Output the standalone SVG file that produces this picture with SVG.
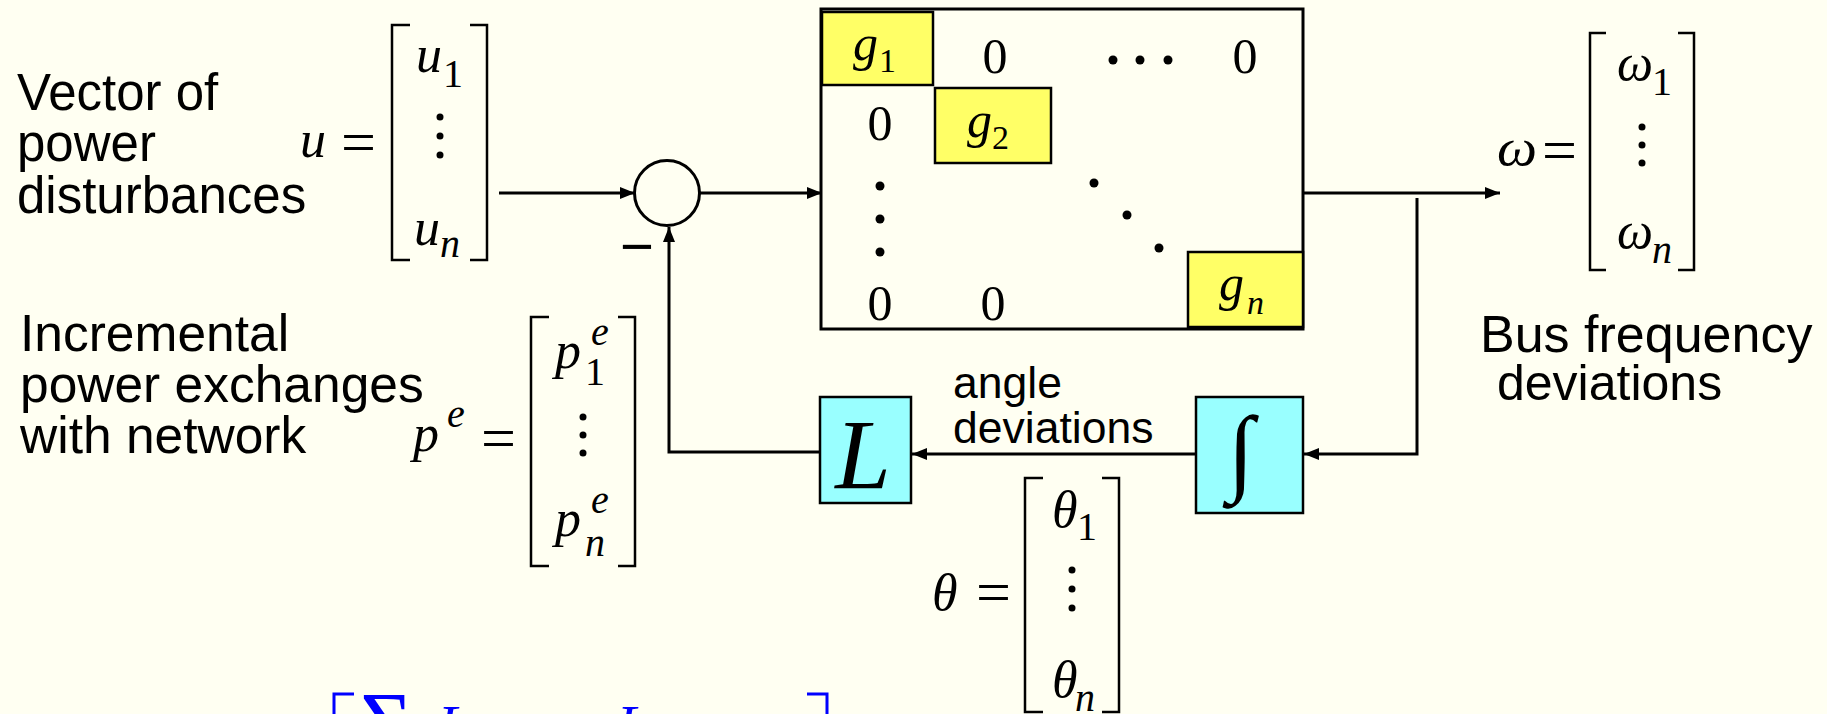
<svg xmlns="http://www.w3.org/2000/svg" width="1827" height="714" viewBox="0 0 1827 714">
<defs>
<style>
.lbl{font-family:"Liberation Sans",Arial,sans-serif;font-size:51px;fill:#000}
.ang{font-family:"Liberation Sans",Arial,sans-serif;font-size:44.5px;fill:#000}
.mi{font-family:"Liberation Serif","Times New Roman",serif;font-style:italic;font-size:52px;fill:#000}
.eq{font-family:"Liberation Serif","Times New Roman",serif;font-size:62px;fill:#000}
.z{font-family:"Liberation Serif","Times New Roman",serif;font-size:50px;fill:#000;text-anchor:middle}
.g{font-family:"Liberation Serif","Times New Roman",serif;font-style:italic;font-size:50px;fill:#000}
.sb{font-family:"Liberation Serif","Times New Roman",serif;font-size:40px;fill:#000}
.sbi{font-family:"Liberation Serif","Times New Roman",serif;font-style:italic;font-size:40px;fill:#000}
.gs{font-family:"Liberation Serif","Times New Roman",serif;font-size:34px;fill:#000}
.gsi{font-family:"Liberation Serif","Times New Roman",serif;font-style:italic;font-size:34px;fill:#000}
.big{font-family:"Liberation Serif","Times New Roman",serif;font-size:100px;fill:#000;text-anchor:middle}
.brk{fill:none;stroke:#000;stroke-width:2.5}
.ln{fill:none;stroke:#000;stroke-width:3}
.yb{fill:#FFFF66;stroke:#000;stroke-width:2.5}
.cb{fill:#99FFFF;stroke:#000;stroke-width:2.5}
.blue{font-family:"Liberation Serif","Times New Roman",serif;fill:#0000FF}
.dot{fill:#000}
</style>
<marker id="ah" markerUnits="userSpaceOnUse" markerWidth="16" markerHeight="12" refX="15" refY="6" orient="auto">
<path d="M0,0 L15,6 L0,12 z" fill="#000"/>
</marker>
</defs>
<rect x="0" y="0" width="1827" height="714" fill="#FFFFF2"/>

<g id="label-disturbances">
<text class="lbl" x="17" y="110">Vector of</text>
<text class="lbl" x="17" y="161">power</text>
<text class="lbl" x="17" y="213">disturbances</text>
</g>

<g id="vector-u">
<text class="mi" x="300" y="157">u</text>
<text class="eq" x="341" y="163">=</text>
<polyline class="brk" points="410,25 392,25 392,260 410,260"/>
<polyline class="brk" points="470,25 487,25 487,260 470,260"/>
<text class="mi" x="416" y="72">u</text><text class="sb" x="443" y="87">1</text>
<circle class="dot" cx="440" cy="117" r="3.5"/><circle class="dot" cx="440" cy="136" r="3.5"/><circle class="dot" cx="440" cy="155" r="3.5"/>
<text class="mi" x="414" y="245">u</text><text class="sbi" x="440" y="257">n</text>
</g>

<g id="sum-junction">
<circle cx="667" cy="193" r="32.5" fill="none" stroke="#000" stroke-width="3"/>
<text class="lbl" x="620" y="266" style="font-size:58px">−</text>
</g>

<g id="matrix-G">
<rect x="821" y="9" width="482" height="320" fill="none" stroke="#000" stroke-width="3"/>
<rect class="yb" x="822" y="12" width="111" height="73"/>
<rect class="yb" x="935" y="88" width="116" height="75"/>
<rect class="yb" x="1188" y="252" width="115" height="75"/>
<text class="g" x="853" y="60">g</text><text class="gs" x="879" y="72">1</text>
<text class="z" x="995" y="73">0</text>
<circle class="dot" cx="1113" cy="60" r="4.5"/><circle class="dot" cx="1140" cy="60" r="4.5"/><circle class="dot" cx="1168" cy="60" r="4.5"/>
<text class="z" x="1245" y="73">0</text>
<text class="z" x="880" y="140">0</text>
<text class="g" x="967" y="137">g</text><text class="gs" x="992" y="149">2</text>
<circle class="dot" cx="880" cy="186" r="4.5"/><circle class="dot" cx="880" cy="219" r="4.5"/><circle class="dot" cx="880" cy="252" r="4.5"/>
<circle class="dot" cx="1094" cy="183" r="4.5"/><circle class="dot" cx="1127" cy="215" r="4.5"/><circle class="dot" cx="1159" cy="248" r="4.5"/>
<text class="z" x="880" y="320">0</text>
<text class="z" x="993" y="320">0</text>
<text class="g" x="1219" y="300">g</text><text class="gsi" x="1247" y="314">n</text>
</g>

<g id="vector-omega">
<text class="mi" x="1497" y="165" textLength="40" lengthAdjust="spacingAndGlyphs">ω</text>
<text class="eq" x="1542" y="171">=</text>
<polyline class="brk" points="1606,33 1590,33 1590,270 1606,270"/>
<polyline class="brk" points="1678,33 1694,33 1694,270 1678,270"/>
<text class="mi" x="1617" y="80" textLength="36" lengthAdjust="spacingAndGlyphs">ω</text><text class="sb" x="1652" y="95">1</text>
<circle class="dot" cx="1642" cy="127" r="3.5"/><circle class="dot" cx="1642" cy="145" r="3.5"/><circle class="dot" cx="1642" cy="163" r="3.5"/>
<text class="mi" x="1617" y="248" textLength="36" lengthAdjust="spacingAndGlyphs">ω</text><text class="sbi" x="1652" y="263">n</text>
</g>

<g id="label-bus">
<text class="lbl" x="1480" y="352" style="font-size:52px">Bus frequency</text>
<text class="lbl" x="1497" y="400" style="font-size:50px">deviations</text>
</g>

<g id="label-incremental">
<text class="lbl" x="20" y="351" style="font-size:51.5px">Incremental</text>
<text class="lbl" x="20" y="402" style="font-size:51.5px">power exchanges</text>
<text class="lbl" x="20" y="453" style="font-size:51.5px">with network</text>
</g>

<g id="vector-pe">
<text class="mi" x="413" y="451">p</text><text class="sbi" x="447" y="427">e</text>
<text class="eq" x="481" y="459">=</text>
<polyline class="brk" points="549,317 531,317 531,566 549,566"/>
<polyline class="brk" points="618,317 635,317 635,566 618,566"/>
<text class="mi" x="555" y="368">p</text><text class="sb" x="585" y="385">1</text><text class="sbi" x="591" y="345">e</text>
<circle class="dot" cx="583" cy="417" r="3.5"/><circle class="dot" cx="583" cy="435" r="3.5"/><circle class="dot" cx="583" cy="453" r="3.5"/>
<text class="mi" x="555" y="536">p</text><text class="sbi" x="585" y="556">n</text><text class="sbi" x="591" y="513">e</text>
</g>

<g id="block-L">
<rect class="cb" x="820" y="397" width="91" height="106"/>
<text class="big" x="863" y="488" style="font-style:italic">L</text>
</g>

<g id="block-integrator">
<rect class="cb" x="1196" y="397" width="107" height="116"/>
<text class="big" x="1241" y="483" style="font-size:96px">∫</text>
</g>

<g id="label-angle">
<text class="ang" x="953" y="398">angle</text>
<text class="ang" x="953" y="443">deviations</text>
</g>

<g id="vector-theta">
<text class="mi" x="932" y="610">θ</text>
<text class="eq" x="976" y="613">=</text>
<polyline class="brk" points="1043,478 1025,478 1025,712 1043,712"/>
<polyline class="brk" points="1102,478 1119,478 1119,712 1102,712"/>
<text class="mi" x="1052" y="527">θ</text><text class="sb" x="1077" y="540">1</text>
<circle class="dot" cx="1072" cy="570" r="3.5"/><circle class="dot" cx="1072" cy="589" r="3.5"/><circle class="dot" cx="1072" cy="608" r="3.5"/>
<text class="mi" x="1052" y="697">θ</text><text class="sbi" x="1075" y="711">n</text>
</g>

<g id="formula-L">
<polyline points="354,694 334,694 334,720" fill="none" stroke="#0000FF" stroke-width="3"/>
<polyline points="807,694 827,694 827,720" fill="none" stroke="#0000FF" stroke-width="3"/>
<text class="blue" x="360" y="755" font-size="90">Σ</text>
<text class="blue" x="438" y="745" font-size="56" font-style="italic">L</text>
<text class="blue" x="617" y="745" font-size="56" font-style="italic">L</text>
</g>

<g id="connectors">
<path class="ln" d="M499,193 H635" marker-end="url(#ah)"/>
<path class="ln" d="M699,193 H822" marker-end="url(#ah)"/>
<path class="ln" d="M1303,193 H1500" marker-end="url(#ah)"/>
<path class="ln" d="M1417,198 V454 H1304" marker-end="url(#ah)"/>
<path class="ln" d="M1196,454 H912" marker-end="url(#ah)"/>
<path class="ln" d="M820,452 H669 V227" marker-end="url(#ah)"/>
</g>
</svg>
